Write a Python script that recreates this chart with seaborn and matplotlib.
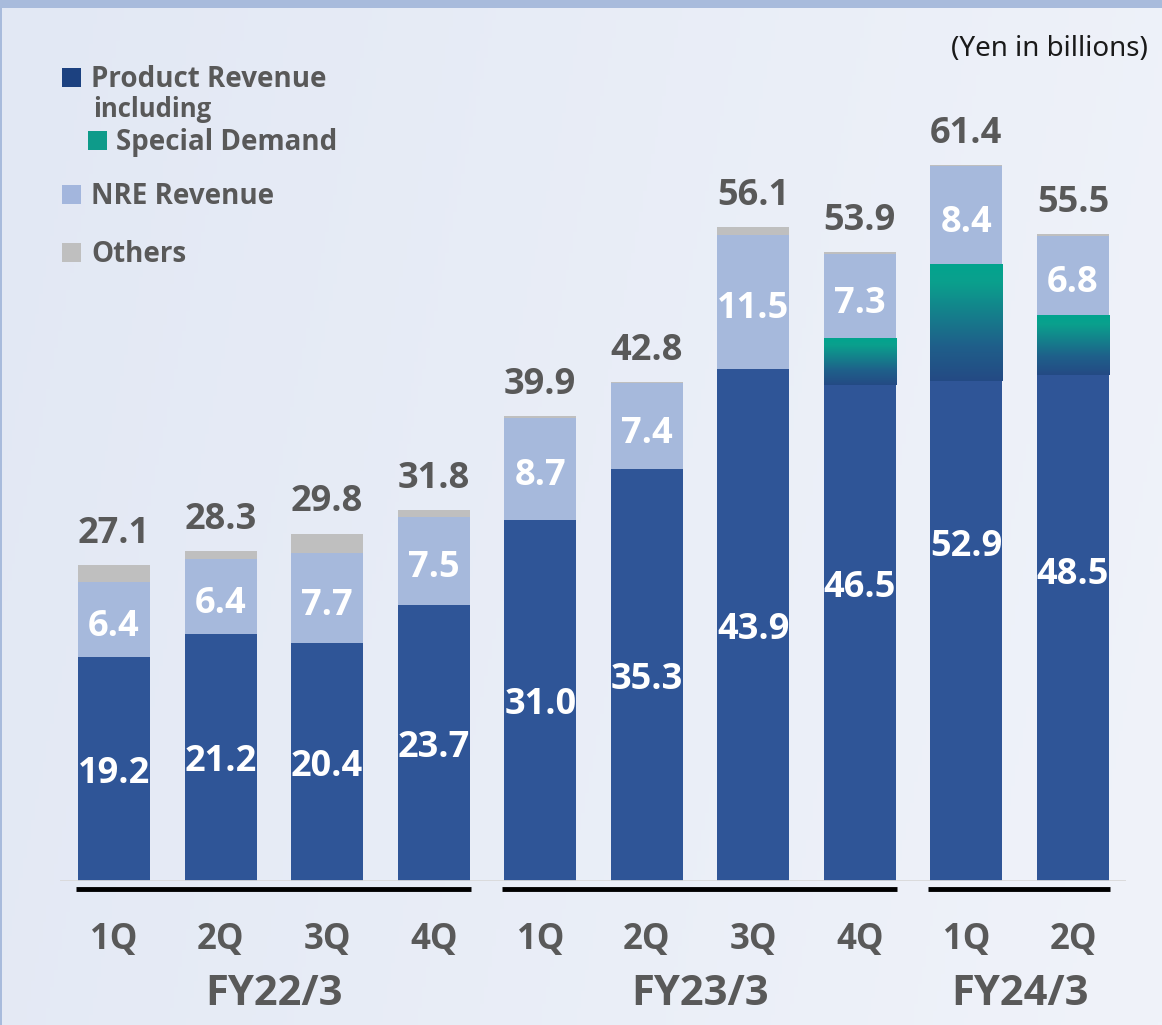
import numpy as np
import pandas as pd
import matplotlib
matplotlib.use('Agg')
import matplotlib.pyplot as plt
from matplotlib.colors import LinearSegmentedColormap
from matplotlib.patches import Rectangle
import seaborn as sns

# Quarterly revenue (Yen in billions)
fiscal_years = ['FY22/3'] * 4 + ['FY23/3'] * 4 + ['FY24/3'] * 2
quarters = ['1Q', '2Q', '3Q', '4Q', '1Q', '2Q', '3Q', '4Q', '1Q', '2Q']
product = [19.2, 21.2, 20.4, 23.7, 31.0, 35.3, 43.9, 46.5, 52.9, 48.5]
special_demand = [0, 0, 0, 0, 0, 0, 0, 4.0, 10.0, 5.1]
nre = [6.4, 6.4, 7.7, 7.5, 8.7, 7.4, 11.5, 7.3, 8.4, 6.8]
totals = [27.1, 28.3, 29.8, 31.8, 39.9, 42.8, 56.1, 53.9, 61.4, 55.5]

df = pd.DataFrame({'fy': fiscal_years, 'quarter': quarters, 'product': product,
                   'special': special_demand, 'nre': nre, 'total': totals})
df['period'] = df['fy'] + ' ' + df['quarter']
df['product_nre'] = df['product'] + df['nre']

C_PROD = '#2f5597'
C_NRE = '#a6b9dc'
C_OTH = '#bfbfbf'
C_TEXT = '#595959'
BAR_W = 0.676

sns.set_style('white')
plt.rcParams['font.family'] = ['Open Sans', 'DejaVu Sans']

W, H = 1162, 1025
fig = plt.figure(figsize=(W / 100, H / 100), dpi=100)

def fx(px):
    return px / W

def fy(py):
    return 1 - py / H

# background gradient
bg = fig.add_axes([0, 0, 1, 1], zorder=-10)
xx, yy = np.meshgrid(np.linspace(0, 1, 300), np.linspace(0, 1, 300))
t = np.clip(0.85 * xx + 0.15 * yy, 0, 1)[..., None]
c1 = np.array([226, 232, 244]) / 255
c2 = np.array([240, 243, 250]) / 255
bg.imshow(c1 * (1 - t) + c2 * t, aspect='auto', extent=[0, 1, 0, 1], origin='upper')
bg.axis('off')
fig.add_artist(Rectangle((0, fy(8)), 1, 8 / H, transform=fig.transFigure, color='#a8bbdc', lw=0))
fig.add_artist(Rectangle((0, 0), 2 / W, 1, transform=fig.transFigure, color='#a8bbdc', lw=0))

ax = fig.add_axes([fx(60), 144 / H, 1066 / W, 769.6 / H])
ax.set_facecolor('none')

order = list(df['period'])
for col, color in [('total', C_OTH), ('product_nre', C_NRE), ('product', C_PROD)]:
    sns.barplot(data=df, x='period', y=col, order=order, color=color, width=BAR_W,
                saturation=1, linewidth=0, errorbar=None, ax=ax)

# special demand gradient inside product bars
grad_cmap = LinearSegmentedColormap.from_list(
    'sd', [(0, '#244a84'), (0.3, '#1f5f8a'), (0.85, '#0aa08d'), (1, '#02a48e')])
grad = np.linspace(0, 1, 256).reshape(-1, 1)
for i, row in df.iterrows():
    if row['special'] > 0:
        x0 = i - BAR_W / 2
        ax.imshow(grad, extent=[x0, x0 + BAR_W, row['product'] - row['special'], row['product']],
                  origin='lower', cmap=grad_cmap, aspect='auto', zorder=3, interpolation='bilinear')

ax.set_xlim(-0.507, 9.498)
ax.set_ylim(0, 66)
ax.set_xticks([])
ax.set_yticks([])
ax.set_xlabel('')
ax.set_ylabel('')
sns.despine(ax=ax, left=True, bottom=True)
ax.axhline(0, color='#d9d9d9', lw=2, zorder=4)

# value labels
for i, row in df.iterrows():
    pc = row['product'] * (0.55 if row['special'] > 0 else 0.5)
    ax.text(i, pc - 1.2, f"{row['product']:.1f}", ha='center', va='baseline', color='white',
            fontsize=26, fontweight='bold', zorder=6)
    ax.text(i, row['product'] + row['nre'] / 2 - 1.4, f"{row['nre']:.1f}", ha='center', va='baseline',
            color='white', fontsize=26, fontweight='bold', zorder=6)
    ax.text(i, row['total'] + 1.9, f"{row['total']:.1f}", ha='center', va='baseline', color=C_TEXT,
            fontsize=26, fontweight='bold', zorder=6)

# category axis: quarters, fiscal-year groups
xtr = ax.get_xaxis_transform()
for i, q in enumerate(quarters):
    ax.text(i, -0.0767, q, transform=xtr, ha='center', va='center', color=C_TEXT,
            fontsize=25, fontweight='bold')
for fy_name, grp in df.groupby('fy', sort=False):
    lo, hi = grp.index.min(), grp.index.max()
    ax.plot([lo - BAR_W / 2 - 0.02, hi + BAR_W / 2 + 0.01], [-0.0104, -0.0104], transform=xtr,
            color='black', lw=3.5, clip_on=False, solid_capstyle='butt')
    ax.text((lo + hi) / 2, -0.148, fy_name, transform=xtr, ha='center', va='center', color=C_TEXT,
            fontsize=30, fontweight='bold')

# legend
legend_items = [
    (62, 87, '#1c4180', 91, 'Product Revenue'),
    (88, 150, '#0e9b8a', 116, 'Special Demand'),
    (62, 204, '#a3b6dd', 91, 'NRE Revenue'),
    (62, 262, '#bfbfbf', 91, 'Others'),
]
for sx, sy, col, tx, label in legend_items:
    fig.add_artist(Rectangle((fx(sx), fy(sy)), 19 / W, 19 / H, transform=fig.transFigure,
                             color=col, lw=0))
    fig.text(fx(tx), fy(sy), label, ha='left', va='baseline', color=C_TEXT, fontsize=20,
             fontweight='bold')
fig.text(fx(93), fy(117), 'including', ha='left', va='baseline', color=C_TEXT, fontsize=18.5,
         fontweight='bold')

fig.text(fx(1148), fy(56), '(Yen in billions)', ha='right', va='baseline', color='#1a1a1a',
         fontsize=20, family=['Noto Sans', 'DejaVu Sans'])

fig.savefig('out.png', dpi=100)
